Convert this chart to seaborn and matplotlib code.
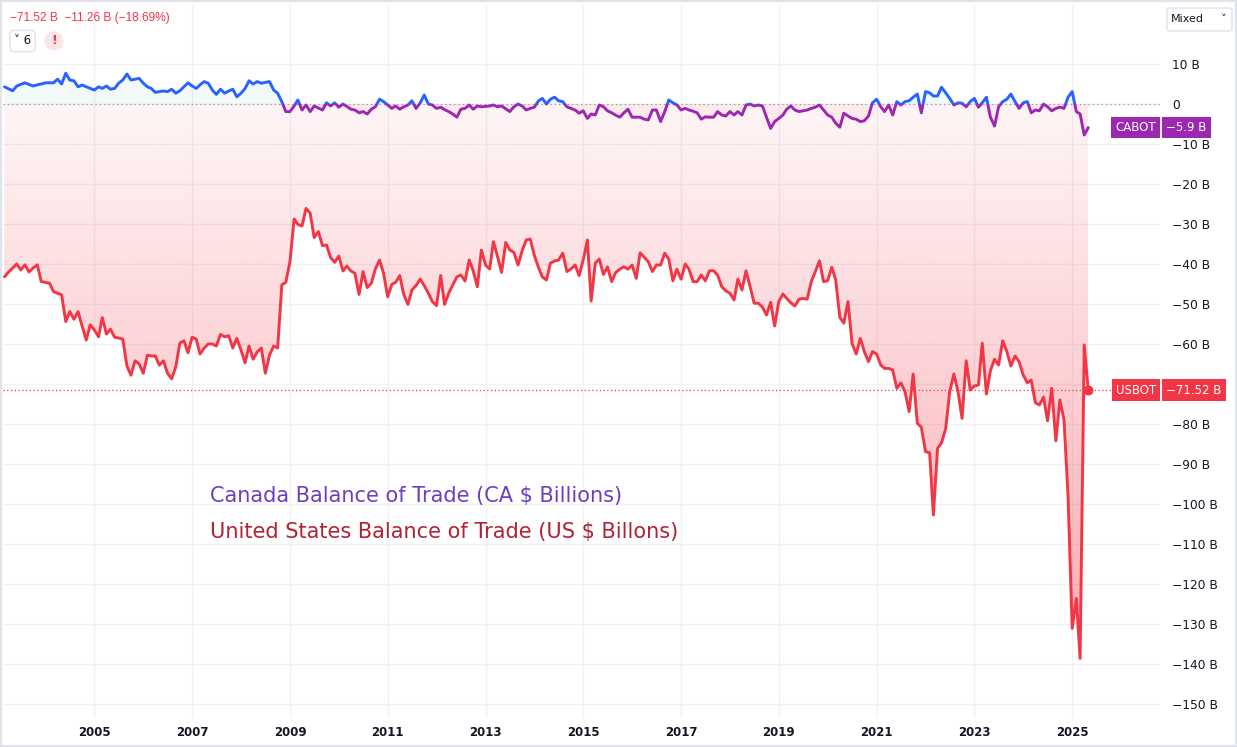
import numpy as np
import pandas as pd
import seaborn as sns
import matplotlib.pyplot as plt
import matplotlib.dates as mdates
import matplotlib.transforms as mtransforms
from matplotlib.colors import to_rgb
from matplotlib.patches import Rectangle, FancyBboxPatch

# monthly balance of trade, Mar 2003 .. May 2025 (billions)
us_bot = [
    -43.2, -42, -41, -40, -41.5, -40.2, -42, -41, -40.2, -44.4,                      # 2003 (Mar-Dec)
    -44.6, -44.8, -46.9, -47.3, -47.7, -54.4, -51.9, -53.8, -51.9, -55.5, -59, -55.2,  # 2004
    -56.5, -58.2, -53.4, -57.5, -56.3, -58.3, -58.5, -58.8, -65.5, -67.8, -64.2, -65,  # 2005
    -67.3, -62.8, -63, -63, -65.3, -64.2, -67.3, -68.7, -65.7, -59.8, -59.2, -62.2,    # 2006
    -58.3, -58.8, -62.5, -61, -60, -60, -60.5, -57.6, -58.2, -57.9, -61, -58.6,        # 2007
    -61.5, -64.7, -60.5, -63.8, -62, -61, -67.3, -62.8, -60.5, -61, -45.2, -44.6,      # 2008
    -39.4, -28.75, -30.1, -30.5, -26.1, -27.3, -33.4, -31.9, -35.4, -35.25, -38.4, -39.6,  # 2009
    -38, -41.75, -40.5, -41.75, -42.3, -47.6, -41.9, -45.9, -44.8, -41.25, -39, -42.3,     # 2010
    -48.2, -45.1, -44.6, -42.9, -47.6, -50.1, -46.5, -45.4, -43.75, -45.4, -47.3, -49.4,   # 2011
    -50.4, -42.9, -50.1, -47.3, -45.25, -43.2, -42.75, -44.25, -39, -41.75, -45.7, -36.5,  # 2012
    -40.25, -41.25, -34.4, -38.2, -42.1, -34.6, -36.5, -37.1, -40.25, -36.75, -34, -33.75, # 2013
    -37.9, -40.9, -43.2, -44, -39.8, -39.25, -39, -37.3, -41.9, -41.25, -40.25, -42.9,     # 2014
    -39, -34, -49.25, -39.8, -38.75, -42.6, -40.7, -44.4, -42.1, -41.3, -40.7, -41.3,      # 2015
    -40.25, -43.6, -37.2, -38.3, -39.4, -41.9, -40.25, -40.25, -37.3, -38.8, -44.2, -41.3, # 2016
    -43.8, -40, -41.3, -44.4, -44.4, -42.75, -44.2, -41.7, -41.7, -42.75, -45.7, -46.7,    # 2017
    -47.3, -49, -43.8, -46.5, -41.7, -45.7, -49.8, -49.8, -50.8, -52.75, -49.6, -55.5,     # 2018
    -49.4, -47.5, -48.6, -49.7, -50.5, -48.8, -48.6, -48.8, -44.4, -41.9, -39.2, -44.4,    # 2019
    -44.2, -40.8, -44, -53.3, -54.8, -49.4, -59.8, -62.5, -58.6, -61.9, -64.4, -61.9,      # 2020
    -62.5, -65.25, -66.1, -66.1, -66.5, -71.1, -69.7, -71.9, -76.9, -67.5, -79.8, -80.8,   # 2021
    -86.9, -87.2, -102.75, -86.1, -84.7, -81.1, -71.9, -67.5, -71.9, -78.6, -64.2, -71.5,  # 2022
    -70.5, -70.25, -59.8, -72.5, -66.7, -63.8, -65.25, -59.2, -61.9, -65.5, -63, -64.4,    # 2023
    -67.75, -69.7, -69, -74.7, -75.25, -73.3, -79.2, -71.1, -84.2, -74, -79, -98,          # 2024
    -131.1, -123.6, -138.6, -60.25, -71.52,                                                # 2025 (Jan-May)
]

ca_bot = [
    4.3, 3.8, 3.3, 4.5, 4.9, 5.3, 4.9, 4.5, 4.8, 5.0,                     # 2003 (Mar-Dec)
    5.3, 5.3, 5.3, 6.2, 5.0, 7.7, 6.0, 5.8, 4.3, 4.75, 4.3, 3.9,          # 2004
    3.5, 4.3, 3.9, 4.5, 3.7, 3.9, 5.2, 6.0, 7.5, 6.0, 6.2, 6.4,           # 2005
    5.2, 4.3, 3.9, 2.9, 3.1, 3.25, 3.1, 3.7, 2.7, 3.3, 4.3, 5.3,          # 2006
    4.5, 3.9, 4.8, 5.6, 5.2, 3.5, 2.4, 3.7, 2.7, 3.25, 3.7, 1.8,          # 2007
    2.7, 3.9, 5.8, 5.0, 5.6, 5.2, 5.4, 5.6, 3.5, 2.7, 0.6, -1.9,          # 2008
    -1.9, -0.5, 1.0, -1.5, -0.25, -1.9, -0.5, -1.0, -1.5, 0.3, -0.5, 0.3,  # 2009
    -0.8, 0.0, -0.6, -1.3, -1.5, -2.2, -1.9, -2.5, -1.3, -0.7, 1.2, 0.6,   # 2010
    -0.25, -1.1, -0.5, -1.3, -0.7, -0.25, 0.8, -1.1, 0.3, 2.25, 0.0, -0.25,  # 2011
    -1.1, -0.8, -1.4, -1.9, -2.5, -3.3, -1.3, -1.1, -0.25, -1.3, -0.5, -0.7,  # 2012
    -0.6, -0.5, -0.25, -0.7, -0.5, -1.2, -1.9, -0.7, 0.0, -0.5, -1.5, -1.1,   # 2013
    -0.8, 0.8, 1.4, 0.0, 1.2, 1.7, 0.8, 0.6, -0.7, -1.1, -1.5, -2.3,          # 2014
    -1.7, -3.6, -2.5, -2.75, -0.25, -0.7, -1.7, -2.2, -2.8, -3.3, -2.2, -1.3, # 2015
    -3.3, -3.3, -3.3, -3.8, -4.0, -1.5, -1.5, -4.4, -1.9, 1.0, 0.3, -0.25,    # 2016
    -1.5, -1.1, -1.5, -1.8, -2.2, -3.8, -3.2, -3.3, -3.3, -1.9, -2.75, -3.0,  # 2017
    -1.9, -2.75, -1.9, -2.75, -0.25, 0.0, -0.5, -0.25, -0.5, -3.3, -6.1, -4.4,  # 2018
    -3.6, -2.75, -1.3, -0.5, -1.5, -1.9, -1.7, -1.5, -1.1, -0.8, -0.25, -1.5,   # 2019
    -2.75, -3.3, -4.8, -5.8, -2.3, -3.0, -3.6, -3.8, -4.4, -4.2, -3.0, 0.3,     # 2020
    1.2, -0.7, -1.9, -0.25, -2.75, 0.6, -0.25, 0.6, 0.8, 1.7, 2.5, -2.2,        # 2021
    3.1, 2.8, 2.0, 2.0, 4.2, 2.8, 1.4, -0.25, 0.3, 0.2, -0.7, 0.6,              # 2022
    1.4, -0.8, 0.3, 1.7, -3.3, -5.5, -0.7, 0.6, 1.2, 2.5, 0.6, -1.1,            # 2023
    0.3, 0.6, -2.2, -1.5, -1.7, 0.0, -0.7, -1.7, -1.1, -0.8, -1.1, 1.7,         # 2024
    3.1, -1.9, -2.5, -7.75, -5.9,                                               # 2025 (Jan-May)
]

dates = pd.date_range("2003-03-01", periods=len(us_bot), freq="MS")
tick_years = list(range(2005, 2026, 2))
y_ticks = list(range(10, -151, -10))

US_RED = "#F23645"
CA_BLUE = "#2962FF"
CA_PURPLE = "#9C27B0"
TEXT = "#131722"

sns.set_style("white")
plt.rcParams["font.family"] = ["DejaVu Sans"]

fig = plt.figure(figsize=(12.37, 7.47), dpi=100)
ax = fig.add_axes([3 / 1237, 1 - 718 / 747, 1157 / 1237, 713 / 747])

df = pd.DataFrame({"date": dates, "us": us_bot, "ca": ca_bot})
ca = df["ca"].to_numpy()

# US gradient area between 0 and the line
fill = ax.fill_between(df["date"], df["us"], 0, facecolor="none", edgecolor="none")
grad = np.zeros((256, 1, 4))
grad[..., :3] = to_rgb(US_RED)
grad[..., 3] = np.linspace(0.05, 0.42, 256)[:, None]
x0 = mdates.date2num(dates[0])
x1 = mdates.date2num(dates[-1])
im = ax.imshow(grad, extent=[x0, x1, -140, 0], aspect="auto", origin="upper", zorder=1)
im.set_clip_path(fill.get_paths()[0], transform=ax.transData)

# Canada baseline fills
ax.fill_between(df["date"], ca, 0, where=ca >= 0, interpolate=True,
                color="#26a69a", alpha=0.06, lw=0, zorder=1)
ax.fill_between(df["date"], ca, 0, where=ca <= 0, interpolate=True,
                color="#ef5350", alpha=0.05, lw=0, zorder=1)

ax.axhline(0, color="#9598a1", lw=0.9, ls=(0, (1, 2.5)), zorder=2)
ax.axhline(us_bot[-1], color=US_RED, lw=0.9, ls=(0, (1, 2)), zorder=2)

sns.lineplot(data=df, x="date", y="us", color=US_RED, lw=2.1, ax=ax, zorder=3)

clip_tf = mtransforms.blended_transform_factory(ax.transAxes, ax.transData)
sns.lineplot(data=df, x="date", y="ca", color=CA_BLUE, lw=2.1, ax=ax, zorder=4)
ax.lines[-1].set_clip_path(Rectangle((0, 0), 1, 1000, transform=clip_tf))
sns.lineplot(data=df, x="date", y="ca", color=CA_PURPLE, lw=2.1, ax=ax, zorder=4)
ax.lines[-1].set_clip_path(Rectangle((0, -1000), 1, 1000, transform=clip_tf))

ax.scatter([dates[-1]], [us_bot[-1]], s=38, color=US_RED, zorder=5)

ax.set_xlim(pd.Timestamp("2003-02-18"), pd.Timestamp("2026-10-19"))
ax.set_ylim(-153.5, 24.75)

ax.set_xticks([pd.Timestamp(f"{y}-01-01") for y in tick_years])
ax.set_xticklabels([str(y) for y in tick_years], fontsize=8.5, fontweight="bold", color=TEXT)
ax.yaxis.tick_right()
ax.set_yticks(y_ticks)
# the -70 B label sits under the USBOT badge, as in the original
ax.set_yticklabels(["0" if v == 0 else ("" if v == -70 else f"{v} B".replace("-", "\u2212"))
                    for v in y_ticks], fontsize=8.8, color=TEXT)
ax.tick_params(axis="x", length=0, pad=6)
ax.tick_params(axis="y", length=0, pad=9)
ax.set_xlabel("")
ax.set_ylabel("")
ax.grid(True, color="#f0f1f4", lw=1)
for s in ax.spines.values():
    s.set_visible(False)

# series text
ax.text(0.179, 0.311, "Canada Balance of Trade (CA $ Billions)", transform=ax.transAxes,
        fontsize=15, color="#6a3fc0", va="center", ha="left")
ax.text(0.179, 0.261, "United States Balance of Trade (US $ Billons)", transform=ax.transAxes,
        fontsize=15, color="#b22234", va="center", ha="left")

# last-value badges
def badge(name, value, color, y):
    ax.text(0.9965, y, name, transform=clip_tf, ha="right", va="center", fontsize=8.5,
            color="white", bbox=dict(boxstyle="square,pad=0.35", fc=color, ec="none"),
            zorder=6, clip_on=False)
    ax.text(1.0055, y, value, transform=clip_tf, ha="left", va="center", fontsize=8.5,
            color="white", bbox=dict(boxstyle="square,pad=0.35", fc=color, ec="none"),
            zorder=6, clip_on=False)

badge("CABOT", "\u22125.9 B", CA_PURPLE, ca_bot[-1])
badge("USBOT", "\u221271.52 B", US_RED, us_bot[-1])

# header widgets
fig.text(10 / 1237, 1 - 18 / 747, "\u221271.52 B  \u221211.26 B (\u221218.69%)",
         fontsize=8.6, color=US_RED, va="center", ha="left", family="Liberation Sans")
fig.text(14 / 1237, 1 - 41 / 747, "\u02c5 6", fontsize=8.5, color=TEXT, va="center", ha="left",
         bbox=dict(boxstyle="round,pad=0.35", fc="white", ec="#e0e3eb"))
fig.text(54 / 1237, 1 - 41 / 747, "!", fontsize=9, color=US_RED, fontweight="bold",
         va="center", ha="center",
         bbox=dict(boxstyle="circle,pad=0.25", fc="#fde4e6", ec="none"))
fig.patches.append(FancyBboxPatch((1167 / 1237, 1 - 31 / 747), 65 / 1237, 23 / 747,
                                  boxstyle="round,pad=0,rounding_size=0.003",
                                  transform=fig.transFigure, fc="white", ec="#e0e3eb", lw=1))
fig.text(1171 / 1237, 1 - 19 / 747, "Mixed", fontsize=8, color=TEXT, va="center", ha="left")
fig.text(1224 / 1237, 1 - 19 / 747, "\u02c5", fontsize=8, color=TEXT, va="center", ha="center")

fig.patches.append(Rectangle((0, 0), 1, 1, transform=fig.transFigure, fill=False,
                             ec="#e0e3eb", lw=3))

fig.savefig("out.png", dpi=100)
